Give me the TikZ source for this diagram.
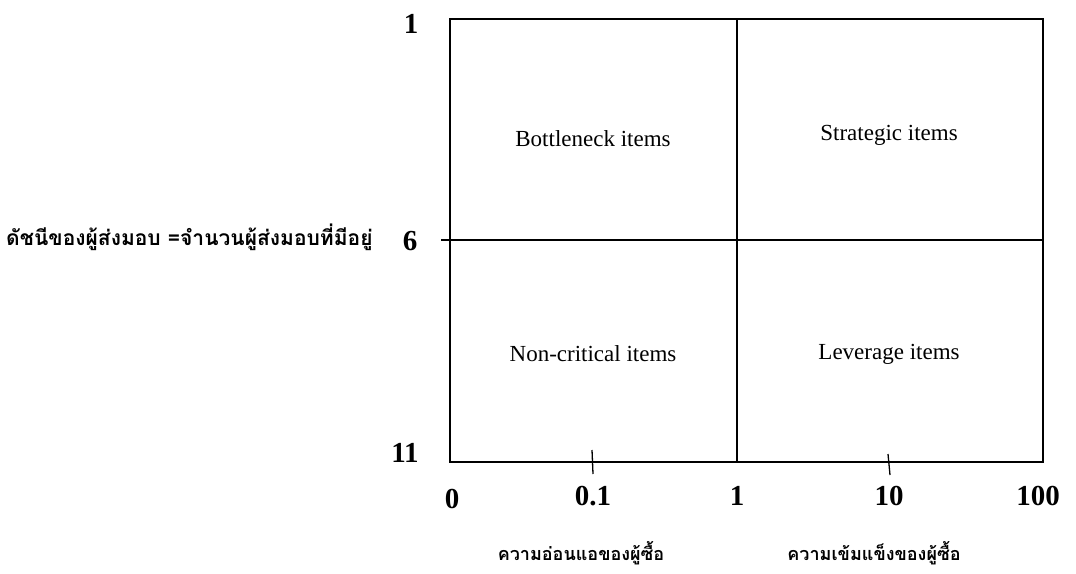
\documentclass[tikz,border=0pt]{standalone}
\usepackage{fontspec}
\setmainfont{Liberation Serif}
\newfontfamily\thaifont[Script=Thai]{Loma}
\begin{document}
\begin{tikzpicture}[x=1pt,y=-1pt,
  frame/.style={line width=1.6pt},
  quad/.style={font=\fontsize{23}{26}\selectfont},
  num/.style={font=\bfseries\fontsize{29}{32}\selectfont, inner sep=0pt},
  thai/.style={font=\thaifont\bfseries\fontsize{18}{22}\selectfont, inner sep=0pt},
  tick/.style={line width=1.3pt}]
\useasboundingbox (0,0) rectangle (1076,573);
% matrix frame
\coordinate (tl) at (450,19);
\coordinate (br) at (1043,462);
\coordinate (mt) at (737,19);
\coordinate (mb) at (737,462);
\coordinate (ml) at (441,240);
\coordinate (mr) at (1043,240);
\draw[frame] (tl) rectangle (br);
\draw[frame] (mt) -- (mb);
\draw[frame] (ml) -- (mr);
% scale ticks on the bottom axis
\coordinate (t1a) at (592,450);
\coordinate (t1b) at (593,474);
\coordinate (t2a) at (888,454);
\coordinate (t2b) at (890,475);
\draw[tick] (t1a) -- (t1b);
\draw[tick] (t2a) -- (t2b);
% quadrant labels
\node[quad] (bn) at (593,139) {Bottleneck items};
\node[quad] (st) at (889,135) {Strategic items};
\node[quad] (nc) at (593,354) {Non-critical items};
\node[quad] (lv) at (889,354) {Leverage items};
% vertical scale
\node[num] (v1) at (411,24) {1};
\node[num] (v6) at (410,241) {6};
\node[num] (v11) at (405,453) {11};
\node[thai, font=\thaifont\bfseries\fontsize{21}{24}\selectfont, anchor=base west] (vl) at (6,245) {ดัชนีของผู้ส่งมอบ =จำนวนผู้ส่งมอบที่มีอยู่};
% horizontal scale
\node[num] (h0) at (452,499) {0};
\node[num] (h01) at (593,496) {0.1};
\node[num] (h1) at (737,496) {1};
\node[num] (h10) at (889,496) {10};
\node[num] (h100) at (1038,496) {100};
\node[thai, anchor=base] (hl) at (581,560) {ความอ่อนแอของผู้ซื้อ};
\node[thai, anchor=base] (hr) at (874,560) {ความเข้มแข็งของผู้ซื้อ};
\end{tikzpicture}
\end{document}
